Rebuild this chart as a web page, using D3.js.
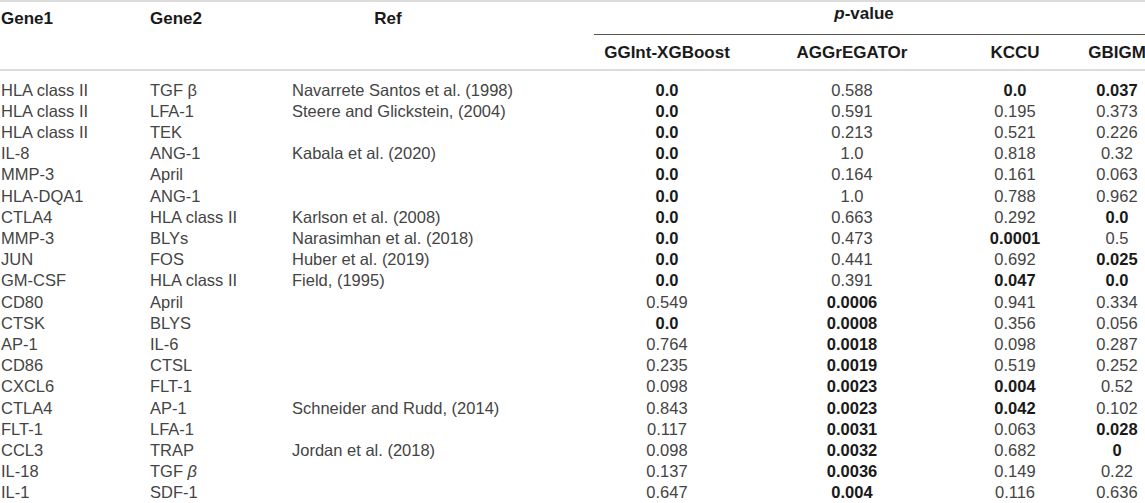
<!DOCTYPE html>
<html>
<head>
<meta charset="utf-8">
<script src="https://cdn.jsdelivr.net/npm/d3@7"></script>
<style>
  html, body { margin: 0; padding: 0; background: #fff; }
  svg { display: block; font-family: "Liberation Sans", Arial, sans-serif; }
  .cell { font-size: 16.5px; fill: #444; }
  .head { font-size: 17px; font-weight: bold; fill: #1a1a1a; }
  .bold { font-weight: bold; fill: #1a1a1a; }
</style>
</head>
<body>
<svg width="1145" height="503"></svg>
<script>
// table data
const gene1 = ['HLA class II', 'HLA class II', 'HLA class II', 'IL-8', 'MMP-3', 'HLA-DQA1', 'CTLA4', 'MMP-3', 'JUN', 'GM-CSF',
  'CD80', 'CTSK', 'AP-1', 'CD86', 'CXCL6', 'CTLA4', 'FLT-1', 'CCL3', 'IL-18', 'IL-1'];
const gene2 = ['TGF β', 'LFA-1', 'TEK', 'ANG-1', 'April', 'ANG-1', 'HLA class II', 'BLYs', 'FOS', 'HLA class II',
  'April', 'BLYS', 'IL-6', 'CTSL', 'FLT-1', 'AP-1', 'LFA-1', 'TRAP', 'TGF *β', 'SDF-1'];
const refs = ['Navarrete Santos et al. (1998)', 'Steere and Glickstein, (2004)', '', 'Kabala et al. (2020)', '', '',
  'Karlson et al. (2008)', 'Narasimhan et al. (2018)', 'Huber et al. (2019)', 'Field, (1995)',
  '', '', '', '', '', 'Schneider and Rudd, (2014)', '', 'Jordan et al. (2018)', '', ''];
const methods = ['GGInt-XGBoost', 'AGGrEGATOr', 'KCCU', 'GBIGM'];
const ggint = ['0.0', '0.0', '0.0', '0.0', '0.0', '0.0', '0.0', '0.0', '0.0', '0.0',
  '0.549', '0.0', '0.764', '0.235', '0.098', '0.843', '0.117', '0.098', '0.137', '0.647'];
const aggregator = ['0.588', '0.591', '0.213', '1.0', '0.164', '1.0', '0.663', '0.473', '0.441', '0.391',
  '0.0006', '0.0008', '0.0018', '0.0019', '0.0023', '0.0023', '0.0031', '0.0032', '0.0036', '0.004'];
const kccu = ['0.0', '0.195', '0.521', '0.818', '0.161', '0.788', '0.292', '0.0001', '0.692', '0.047',
  '0.941', '0.356', '0.098', '0.519', '0.004', '0.042', '0.063', '0.682', '0.149', '0.116'];
const gbigm = ['0.037', '0.373', '0.226', '0.32', '0.063', '0.962', '0.0', '0.5', '0.025', '0.0',
  '0.334', '0.056', '0.287', '0.252', '0.52', '0.102', '0.028', '0', '0.22', '0.636'];
const pvalues = [ggint, aggregator, kccu, gbigm];

const svg = d3.select('svg');
const W = 1145;

// row positions
const y = d3.scaleBand().domain(d3.range(gene1.length)).range([79, 503]);
const mid = (i) => y(i) + y.bandwidth() / 2;

// p-value column centers
const x = d3.scaleOrdinal().domain(methods).range([667, 852, 1015, 1117]);
const colGene1 = 1, colGene2 = 150, colRef = 292;

// rules
svg.append('line').attr('x1', 0).attr('x2', W).attr('y1', 1).attr('y2', 1)
  .attr('stroke', '#dcdcdc').attr('stroke-width', 2);
svg.append('line').attr('x1', 0).attr('x2', W).attr('y1', 70).attr('y2', 70)
  .attr('stroke', '#dcdcdc').attr('stroke-width', 2);
svg.append('line').attr('x1', 594).attr('x2', W).attr('y1', 34.5).attr('y2', 34.5)
  .attr('stroke', '#555').attr('stroke-width', 1);

// headers
const head = svg.append('g').attr('class', 'head');
head.append('text').attr('x', colGene1).attr('y', 24).text('Gene1');
head.append('text').attr('x', colGene2).attr('y', 24).text('Gene2');
head.append('text').attr('x', 388).attr('y', 24).attr('text-anchor', 'middle').text('Ref');
const pv = head.append('text').attr('x', 864).attr('y', 19).attr('text-anchor', 'middle');
pv.append('tspan').attr('font-style', 'italic').text('p');
pv.append('tspan').text('-value');
head.selectAll('.mh').data(methods).join('text')
  .attr('class', 'mh')
  .attr('x', (d) => x(d)).attr('y', 58)
  .attr('text-anchor', 'middle')
  .text((d) => d);

// body cells
const body = svg.append('g').attr('class', 'cell');
body.selectAll('.g1').data(gene1).join('text')
  .attr('class', 'g1').attr('x', colGene1).attr('y', (d, i) => mid(i) + 6).text((d) => d);

body.selectAll('.g2').data(gene2).join('text')
  .attr('class', 'g2').attr('x', colGene2).attr('y', (d, i) => mid(i) + 6)
  .each(function (d) {
    // '*' marks an italic greek letter
    const t = d3.select(this);
    if (d.includes('*')) {
      const [a, b] = d.split('*');
      t.append('tspan').text(a);
      t.append('tspan').attr('font-style', 'italic').text(b);
    } else {
      t.text(d);
    }
  });

body.selectAll('.rf').data(refs).join('text')
  .attr('class', 'rf').attr('x', colRef).attr('y', (d, i) => mid(i) + 6).text((d) => d);

methods.forEach((m, k) => {
  body.selectAll('.v' + k).data(pvalues[k]).join('text')
    .attr('class', (d) => 'v' + k + (+d < 0.05 ? ' bold' : ''))
    .attr('x', x(m))
    .attr('y', (d, i) => mid(i) + 6)
    .attr('text-anchor', 'middle')
    .text((d) => d);
});
</script>
</body>
</html>
